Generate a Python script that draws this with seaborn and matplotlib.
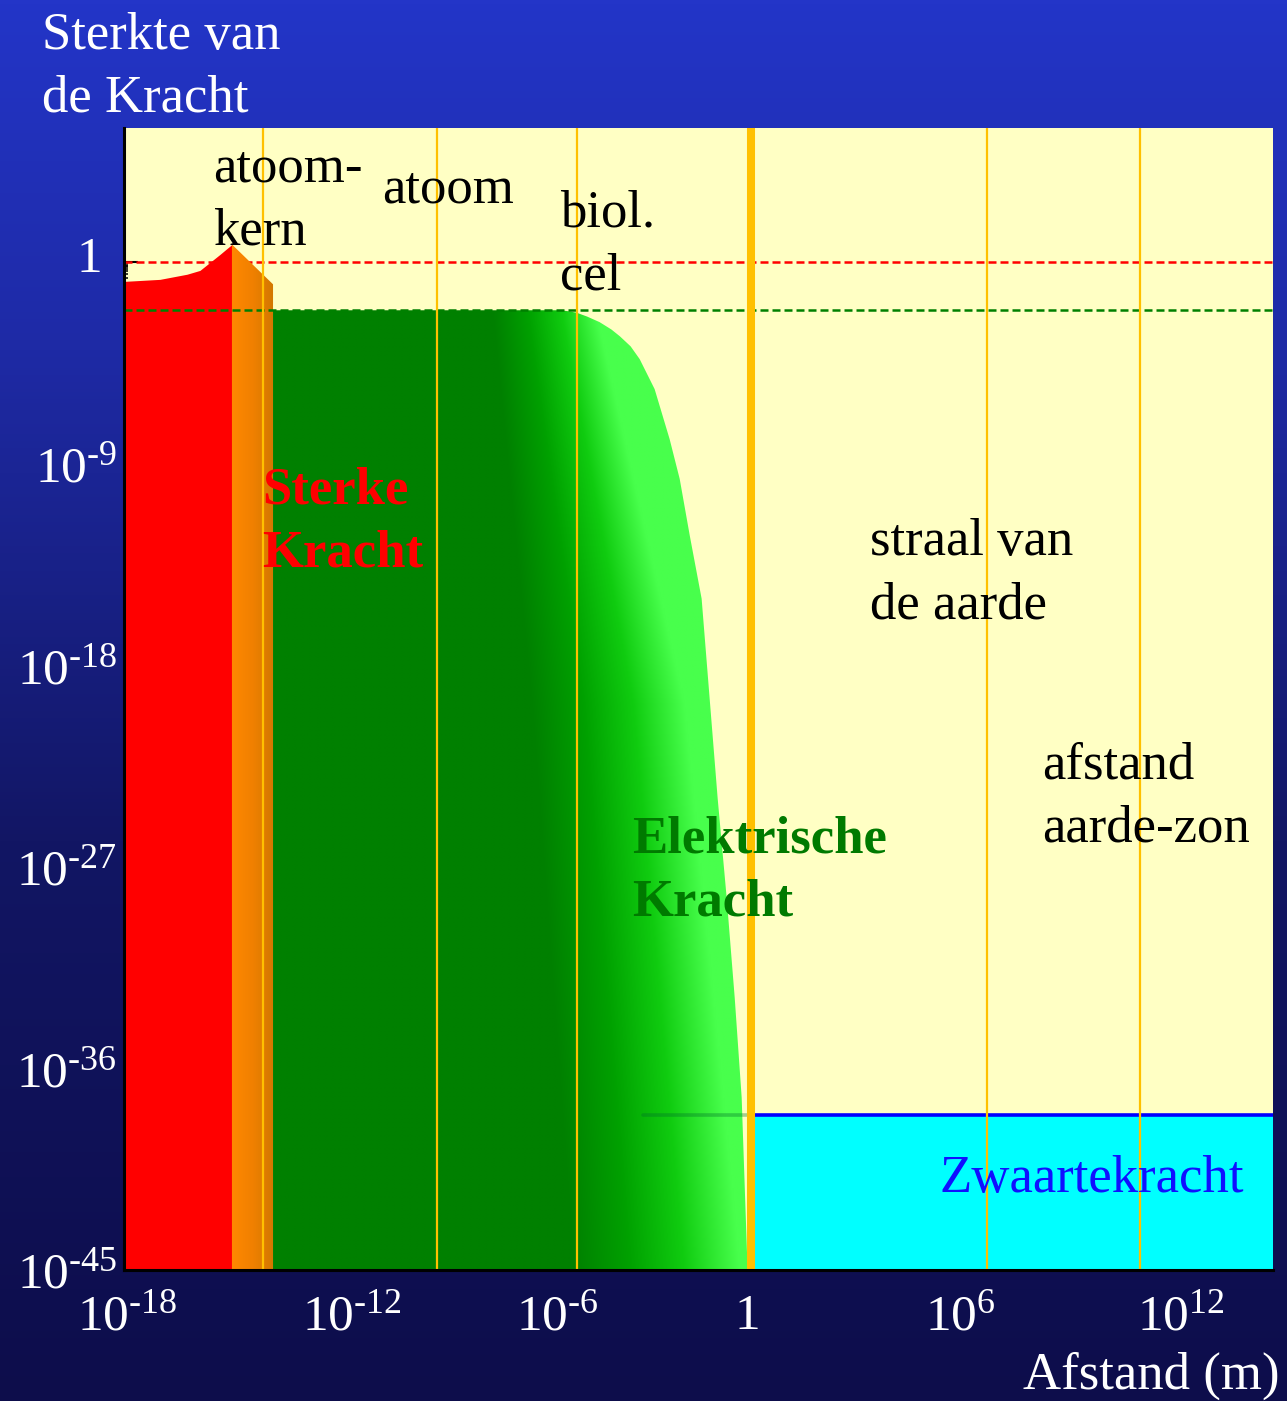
import numpy as np
import matplotlib
matplotlib.use("Agg")
import matplotlib.pyplot as plt
from matplotlib.colors import to_rgb
from matplotlib.ticker import FixedLocator, FixedFormatter, NullFormatter
from matplotlib.transforms import ScaledTranslation
import seaborn as sns

# values, all as powers of ten (log10)
strong_x = [-18.0, -16.97, -16.19, -15.82, -15.53, -15.24, -15.04, -14.90]
strong_y = [-0.85, -0.76, -0.53, -0.36, 0.0, 0.36, 0.62, 0.80]
strong_tail_x = [-14.90, -13.72]
strong_tail_y = [0.80, -0.98]
elec_x = [-13.72, -5.48, -5.25, -5.0, -4.7, -4.34, -4.0, -3.76, -3.45, -3.19,
          -2.76, -2.33, -2.04, -1.75, -1.41, -0.95, -0.69, -0.46, -0.26, -0.09]
elec_y = [-2.14, -2.14, -2.18, -2.25, -2.42, -2.67, -3.0, -3.30, -3.75, -4.32,
          -5.66, -7.89, -9.67, -12.21, -15.02, -23.93, -28.39, -32.84, -37.30, -45.0]
gravity_x = [0.0, 15.0]
gravity_level = -38.06
gravity_hidden_x = [-3.1, 0.0]
strong_ref = 0.0                 # sterkte 1
elec_ref = np.log10(1 / 137)     # fijnstructuurconstante
scale_marks = [-14.0, -9.0, -5.0, 6.8, 11.18]   # kern, atoom, cel, aarde, aarde-zon
human_mark = 0.0
x_tick_exps = [-18, -12, -6, 0, 6, 12]
y_tick_exps = [0, -9, -18, -27, -36, -45]
x_range = (-18, 15)
y_range = (-45, 6)

sns.set_style("ticks")
plt.rcParams["font.family"] = ["Liberation Serif", "DejaVu Serif"]
plt.rcParams["mathtext.fontset"] = "custom"
plt.rcParams["mathtext.rm"] = "Liberation Serif"
plt.rcParams["mathtext.it"] = "Liberation Serif:italic"
plt.rcParams["mathtext.bf"] = "Liberation Serif:bold"

W, H = 1287, 1401
fig = plt.figure(figsize=(W / 100, H / 100), dpi=100)

# blue gradient background
bg = fig.add_axes([0, 0, 1, 1], zorder=-10)
stops = np.array([0.0, 0.4, 0.75, 1.0])
cols = np.array([(13, 13, 75), (18, 22, 100), (30, 42, 165), (35, 53, 200)]) / 255
g = np.linspace(0, 1, 400)
grad = np.stack([np.interp(g, stops, cols[:, i]) for i in range(3)], axis=-1)
bg.imshow(grad[:, None, :], extent=[0, 1, 0, 1], origin="lower", aspect="auto")
bg.set_axis_off()

ax = fig.add_axes([124 / W, 131 / H, 1149 / W, 1142 / H])
ax.set_xscale("log")
ax.set_yscale("log")
ax.set_facecolor("#ffffc4")

p = lambda v: 10.0 ** np.asarray(v, dtype=float)
ybot = 10.0 ** y_range[0]

# Sterke kracht
ax.fill_between(p(strong_x), ybot, p(strong_y), color="#ff0000", lw=0, zorder=2)


def gradient_fill(xs, ys, colfun, z):
    poly = ax.fill_between(p(xs), ybot, p(ys), facecolor="none", edgecolor="none")
    fx = np.linspace(0, 1, 900)
    fy = np.linspace(0, 1, 700)
    LX = x_range[0] + (x_range[1] - x_range[0]) * fx[None, :]
    LY = y_range[0] + (y_range[1] - y_range[0]) * fy[:, None]
    img = colfun(LX, LY)
    im = ax.imshow(img, extent=[0, 1, 0, 1], transform=ax.transAxes, origin="lower",
                   aspect="auto", zorder=z, interpolation="bilinear")
    im.set_clip_path(poly.get_paths()[0], transform=ax.transData)


def ramp(t, hexes):
    c = np.array([to_rgb(h) for h in hexes])
    k = np.linspace(0, 1, len(hexes))
    return np.stack([np.interp(t, k, c[:, i]) for i in range(3)], axis=-1)


def orange_col(LX, LY):
    t = np.clip((LX - strong_tail_x[0]) / (strong_tail_x[1] - strong_tail_x[0]), 0, 1)
    return ramp(t + 0 * LY, ["#ff8800", "#f08000", "#d27800"])


def green_col(LX, LY):
    knots = [-45, -19.7, -2.5]
    mid = np.interp(LY, knots, [-2.7, -4.1, -5.9])
    width = np.interp(LY, knots, [4.8, 4.4, 3.0])
    t = np.clip((LX - mid) / width + 0.5, 0, 1)
    return ramp(t, ["#008000", "#00a000", "#10cc10", "#48ff4c"])


gradient_fill(strong_tail_x, strong_tail_y, orange_col, 2)
gradient_fill(elec_x, elec_y, green_col, 2)

# Zwaartekracht
ax.fill_between(p(gravity_x), ybot, p([gravity_level] * 2), color="#00ffff", lw=0, zorder=2)
sns.lineplot(x=p(gravity_x), y=p([gravity_level] * 2), color="#0000ff", lw=2.6, ax=ax, zorder=3)
sns.lineplot(x=p(gravity_hidden_x), y=p([gravity_level] * 2), color="#00702a", lw=2.6,
             alpha=0.35, ax=ax, zorder=3)

# reference levels
sns.lineplot(x=p(x_range), y=p([strong_ref] * 2), color="#ff0000", lw=1.8,
             linestyle=(0, (3.2, 1.6)), ax=ax, zorder=1.5)
sns.lineplot(x=p(x_range), y=p([elec_ref] * 2), color="#008000", lw=1.8,
             linestyle=(0, (3.2, 1.6)), ax=ax, zorder=3)

# length scales
for v in scale_marks:
    ax.axvline(10.0 ** v, color="#ffc000", lw=1.6, zorder=4)
ax.axvline(10.0 ** human_mark, color="#ffc000", lw=5.8, zorder=4)

ax.set_xlim(p(x_range))
ax.set_ylim(p(y_range))

# ticks
def sup(n):
    if n == 0:
        return "1"
    sign = r"\text{-}" if n < 0 else ""
    return r"$\mathregular{10^{%s%d}}$" % (sign, abs(n))

ax.xaxis.set_major_locator(FixedLocator(p(x_tick_exps)))
ax.xaxis.set_major_formatter(FixedFormatter([sup(n) for n in x_tick_exps]))
ax.yaxis.set_major_locator(FixedLocator(p(y_tick_exps)))
ax.yaxis.set_major_formatter(FixedFormatter([sup(n) for n in y_tick_exps]))
ax.xaxis.set_minor_locator(FixedLocator([k * 10.0 ** (n - 1) for n in x_tick_exps for k in range(1, 10)]))
ax.yaxis.set_minor_locator(FixedLocator([k * 10.0 ** (n - 1) for n in y_tick_exps for k in range(1, 10)]))
ax.xaxis.set_minor_formatter(NullFormatter())
ax.yaxis.set_minor_formatter(NullFormatter())
ax.tick_params(axis="x", which="major", direction="in", length=14.5, width=1.5,
               color="black", labelcolor="white", labelsize=37, pad=17)
ax.tick_params(axis="x", which="minor", direction="in", length=5, width=1.1, color="black")
ax.tick_params(axis="y", which="major", direction="in", length=10, width=1.5,
               color="black", labelcolor="white", labelsize=37, pad=5)
ax.tick_params(axis="y", which="minor", direction="in", length=3, width=1.1, color="black")
for s in ["top", "right"]:
    ax.spines[s].set_visible(False)
for s in ["left", "bottom"]:
    ax.spines[s].set_linewidth(2.2)
    ax.spines[s].set_color("black")
    ax.spines[s].set_zorder(6)

# small hand nudges of the tick labels, in pixels, as in the original
x_nudge = [3, 19, 15, -3, 1, 12]
for lab, dx in zip(ax.get_xticklabels(), x_nudge):
    lab.set_transform(lab.get_transform() + ScaledTranslation(dx / 100, 0, fig.dpi_scale_trans))
ylabs = ax.get_yticklabels()
ylabs[0].set_transform(ylabs[0].get_transform() + ScaledTranslation(-15 / 100, 8 / 100, fig.dpi_scale_trans))

# labels (baseline = last line)
fs = 38
ls = 1.41
fig.text(42 / W, 1 - 112 / H, "Sterkte van\nde Kracht", color="white", fontsize=fs,
         va="baseline", ha="left", linespacing=ls)
fig.text(1280 / W, 1 - 1389 / H, "Afstand (m)", color="white", fontsize=fs,
         va="baseline", ha="right")

def note(txt, lx, ly, **kw):
    ax.text(10.0 ** lx, 10.0 ** ly, txt, fontsize=fs, va="baseline", ha="left",
            linespacing=ls, zorder=7, **kw)

note("atoom-\nkern", -15.45, 0.80, color="black")
note("atoom", -10.59, 2.67, color="black")
note("biol.\ncel", -5.48, -1.20, color="black")
note("straal van\nde aarde", 3.42, -15.91, color="black")
note("afstand\naarde-zon", 8.38, -25.85, color="black")
note("Sterke\nKracht", -14.04, -13.59, color="#ff0000", fontweight="bold")
note("Elektrische\nKracht", -3.42, -29.19, color="#007a00", fontweight="bold")
note("Zwaartekracht", 5.43, -41.53, color="#1010ff")

fig.savefig("out.png", dpi=100)
